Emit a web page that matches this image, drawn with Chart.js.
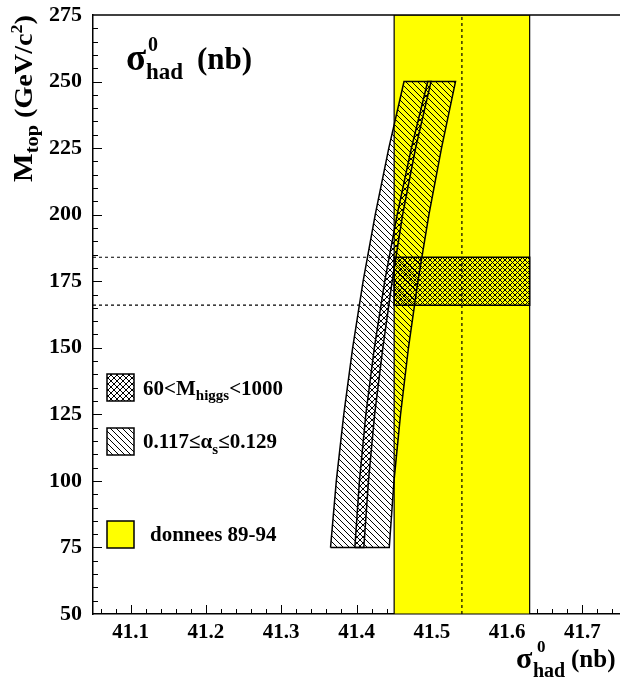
<!DOCTYPE html>
<html><head><meta charset="utf-8">
<script src="https://cdn.jsdelivr.net/npm/chart.js@4.4.0/dist/chart.umd.min.js"></script>
<style>html,body{margin:0;padding:0;background:#fff;}#wrap{width:620px;height:684px;}</style>
</head><body><div id="wrap"><canvas id="c" width="620" height="684"></canvas></div>
<script>
// ---- data ----
const xRange = [41.05, 41.75];
const yRange = [50, 275];
const xTickLabels = [41.1, 41.2, 41.3, 41.4, 41.5, 41.6, 41.7];
const yTickLabels = [50, 75, 100, 125, 150, 175, 200, 225, 250, 275];
const massPoints     = [75, 100, 125, 150, 175, 200, 225, 250];
const alphaBandLow   = [41.3655, 41.3732, 41.3831, 41.3949, 41.4088, 41.4249, 41.4429, 41.4631];
const alphaBandHigh  = [41.4435, 41.4498, 41.4585, 41.4690, 41.4816, 41.4962, 41.5129, 41.5315];
const higgsStripLow  = [41.3978, 41.4039, 41.4124, 41.4237, 41.4375, 41.4540, 41.4729, 41.4946];
const higgsStripHigh = [41.4097, 41.4159, 41.4241, 41.4350, 41.4474, 41.4613, 41.4785, 41.4990];
const dataBand = [41.45, 41.63];
const dataCentral = 41.54;
const mtopBand = [166, 184];
const legendLabels = ['60<M', 'higgs', '<1000', '0.117\u2264\u03b1', 's', '\u22640.129', 'donnees 89-94'];

// ---- helpers ----
function polygon(ys, lo, hi) {
  const pts = [];
  for (let i = 0; i < ys.length; i++) pts.push({x: lo[i], y: ys[i]});
  for (let i = ys.length - 1; i >= 0; i--) pts.push({x: hi[i], y: ys[i]});
  pts.push({x: lo[0], y: ys[0]});
  return pts;
}
function rect(x0, x1, y0, y1) {
  return [{x:x0,y:y0},{x:x0,y:y1},{x:x1,y:y1},{x:x1,y:y0},{x:x0,y:y0}];
}
function makePattern(kind, s) {
  const c = document.createElement('canvas'); c.width = s; c.height = s;
  const g = c.getContext('2d'); g.strokeStyle = '#000'; g.lineWidth = 1;
  g.beginPath();
  if (kind === 'back' || kind === 'cross') {
    g.moveTo(0,0); g.lineTo(s,s);
    g.moveTo(-1,s-1); g.lineTo(1,s+1);
    g.moveTo(s-1,-1); g.lineTo(s+1,1);
  }
  if (kind === 'fwd' || kind === 'cross') {
    g.moveTo(0,s); g.lineTo(s,0);
    g.moveTo(-1,1); g.lineTo(1,-1);
    g.moveTo(s-1,s+1); g.lineTo(s+1,s-1);
  }
  g.stroke();
  return g.createPattern(c, 'repeat');
}
const ctxMain = document.getElementById('c').getContext('2d');
const hatchBack = makePattern('back', 6);
const hatchCross = makePattern('cross', 6);
const hatchCrossFine = makePattern('cross', 5);

const FONT = '"Liberation Serif", "Times New Roman", serif';
function richText(ctx, x, y, parts) {
  for (const p of parts) {
    ctx.font = 'bold ' + p.size + 'px ' + FONT;
    ctx.fillText(p.t, x, y + (p.dy || 0));
    x += ctx.measureText(p.t).width;
  }
}

const decor = {
  id: 'decor',
  beforeDatasetsDraw(chart) {
    const {ctx, chartArea: ca, scales: {x: xs, y: ys}} = chart;
    ctx.save();
    ctx.strokeStyle = '#000'; ctx.lineWidth = 1;
    ctx.beginPath();
    for (let k = 0; k <= 35; k++) {
      const v = xRange[0] + 0.01 + k * 0.02;
      if (v > xRange[1]) break;
      const major = xTickLabels.some(t => Math.abs(t - v) < 1e-6);
      const px = Math.round(xs.getPixelForValue(v)) + 0.5;
      ctx.moveTo(px, ca.bottom); ctx.lineTo(px, ca.bottom - (major ? 9 : 5));
    }
    for (let v = yRange[0] + 5; v < yRange[1]; v += 5) {
      const major = yTickLabels.includes(v);
      const py = Math.round(ys.getPixelForValue(v)) + 0.5;
      ctx.moveTo(ca.left, py); ctx.lineTo(ca.left + (major ? 9 : 5), py);
    }
    ctx.stroke();
    ctx.restore();
  },
  afterDraw(chart) {
    const {ctx, chartArea: ca} = chart;
    ctx.save();
    ctx.strokeStyle = '#000'; ctx.lineWidth = 1.5;
    ctx.beginPath(); ctx.moveTo(ca.left, ca.top); ctx.lineTo(ca.right, ca.top); ctx.stroke();
    ctx.fillStyle = '#000';
    ctx.textBaseline = 'alphabetic'; ctx.textAlign = 'left';
    // inner title
    ctx.font = 'bold 37px ' + FONT; ctx.fillText('\u03c3', 126, 70);
    ctx.font = 'bold 20px ' + FONT; ctx.fillText('0', 148, 51);
    ctx.font = 'bold 23px ' + FONT; ctx.fillText('had', 146, 79);
    ctx.font = 'bold 31px ' + FONT; ctx.fillText('(nb)', 197, 69);
    // x axis title
    ctx.font = 'bold 30px ' + FONT; ctx.fillText('\u03c3', 516, 668);
    ctx.font = 'bold 17px ' + FONT; ctx.fillText('0', 537, 652);
    ctx.font = 'bold 20px ' + FONT; ctx.fillText('had', 533, 677);
    ctx.font = 'bold 25px ' + FONT; ctx.fillText('(nb)', 571, 667);
    // y axis title (rotated)
    ctx.save();
    ctx.translate(32, 182); ctx.rotate(-Math.PI / 2);
    const parts = [{t:'M', size:27}, {t:'top', size:18, dy:6}, {t:' (GeV/c', size:25}, {t:'2', size:16, dy:-10}, {t:')', size:25}];
    let w = 0;
    for (const p of parts) { ctx.font = 'bold ' + p.size + 'px ' + FONT; w += ctx.measureText(p.t).width; }
    ctx.scale(167 / w, 1);
    richText(ctx, 0, 0, parts);
    ctx.restore();
    // legend
    const boxes = [{y:374, fill: hatchCross}, {y:428, fill: hatchBack}, {y:521, fill: '#ffff00'}];
    for (const b of boxes) {
      ctx.fillStyle = '#fff'; ctx.fillRect(107, b.y, 27, 27);
      ctx.fillStyle = b.fill; ctx.fillRect(107, b.y, 27, 27);
      ctx.lineWidth = 1.5; ctx.strokeStyle = '#000'; ctx.strokeRect(107, b.y, 27, 27);
    }
    ctx.fillStyle = '#000';
    richText(ctx, 143, 395, [{t:legendLabels[0], size:21}, {t:legendLabels[1], size:15, dy:5}, {t:legendLabels[2], size:21}]);
    richText(ctx, 143, 448, [{t:legendLabels[3], size:21}, {t:legendLabels[4], size:15, dy:6}, {t:legendLabels[5], size:21}]);
    richText(ctx, 150, 541, [{t:legendLabels[6], size:21}]);
    ctx.restore();
  }
};

const lineDs = (data, opts) => Object.assign({
  data, showLine: true, pointRadius: 0, borderColor: '#000', borderWidth: 1.5,
  tension: 0, fill: false, backgroundColor: 'rgba(0,0,0,0)'
}, opts);

new Chart(ctxMain, {
  type: 'scatter',
  data: {
    datasets: [
      lineDs(rect(dataBand[0], dataBand[1], yRange[0], yRange[1]), {order: 10, fill: 'shape', backgroundColor: '#ffff00', borderWidth: 1.2}),
      lineDs([{x: dataCentral, y: yRange[0]}, {x: dataCentral, y: yRange[1]}], {order: 9, borderWidth: 1.2, borderDash: [3, 3]}),
      lineDs(polygon(massPoints, alphaBandLow, alphaBandHigh), {order: 8, fill: 'shape', backgroundColor: hatchBack}),
      lineDs(rect(dataBand[0], dataBand[1], mtopBand[0], mtopBand[1]), {order: 7, fill: 'shape', backgroundColor: hatchCrossFine}),
      lineDs(polygon(massPoints, higgsStripLow, higgsStripHigh), {order: 6, fill: 'shape', backgroundColor: hatchCross}),
      lineDs([{x: xRange[0], y: mtopBand[1]}, {x: dataBand[0], y: mtopBand[1]}], {order: 5, borderWidth: 1.2, borderDash: [3, 3]}),
      lineDs([{x: xRange[0], y: mtopBand[0]}, {x: dataBand[0], y: mtopBand[0]}], {order: 5, borderWidth: 1.2, borderDash: [3, 3]})
    ]
  },
  options: {
    responsive: false, animation: false, devicePixelRatio: 1,
    layout: {padding: {top: 15, right: 0, left: 0, bottom: 0}},
    plugins: {legend: {display: false}, tooltip: {enabled: false}},
    scales: {
      x: {
        type: 'linear', min: xRange[0], max: xRange[1],
        grid: {display: false, drawTicks: false},
        border: {display: true, color: '#000', width: 1.5},
        afterBuildTicks: s => { s.ticks = xTickLabels.map(v => ({value: v})); },
        afterFit: s => { s.height = 70; s.paddingLeft = 0; s.paddingRight = 0; },
        ticks: {font: {family: FONT, weight: 'bold', size: 21}, color: '#000', padding: 6,
                maxRotation: 0, autoSkip: false, callback: v => Number(v).toFixed(1)}
      },
      y: {
        type: 'linear', min: yRange[0], max: yRange[1],
        grid: {display: false, drawTicks: false},
        border: {display: true, color: '#000', width: 1.5},
        afterBuildTicks: s => { s.ticks = yTickLabels.map(v => ({value: v})); },
        afterFit: s => { s.width = 93; s.paddingTop = 0; s.paddingBottom = 0; },
        ticks: {font: {family: FONT, weight: 'bold', size: 22}, color: '#000', padding: 11,
                autoSkip: false, callback: v => String(v)}
      }
    }
  },
  plugins: [decor]
});
</script></body></html>
